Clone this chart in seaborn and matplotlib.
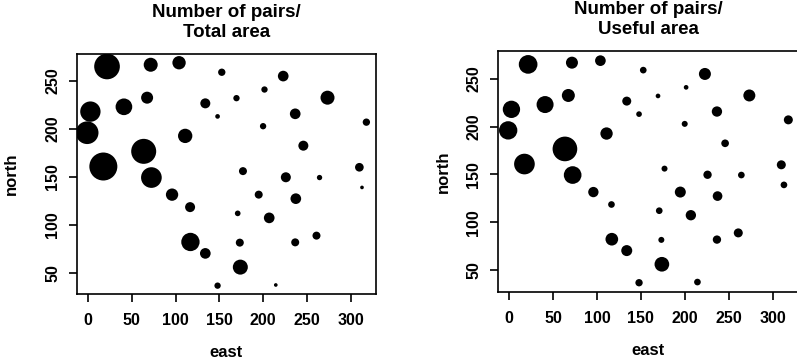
import numpy as np
import pandas as pd
import matplotlib
matplotlib.use("Agg")
import matplotlib.pyplot as plt
import seaborn as sns

# --- DATA ---
east = [21.7, 71.6, 104, 152.8, 223, 201.6, 169.6, 273.6, 134, 67.5,
        41, 2.7, -1, 148, 236.7, 200, 111, 246, 63.6, 17.5,
        310, 177, 72.4, 226, 264.5, 313, 96, 195, 237.4, 116.6,
        171, 207, 117, 173.4, 236.7, 261, 134, 174, 148, 214.5, 318]
north = [265, 266.8, 268.9, 259, 255, 241, 232, 232.5, 226.6, 232.5,
         223, 218, 196, 213, 215.7, 202.8, 192.7, 182.5, 176.6, 160.8,
         160, 156, 149.3, 149.6, 149.3, 139, 131.5, 131.5, 127.3, 118.5,
         112, 107.3, 82.2, 81.5, 81.8, 88.8, 70.3, 56, 36.7, 37.4, 207]
# pairs / total area (circle size)
pairs_total = [0.77, 0.42, 0.40, 0.22, 0.32, 0.19, 0.19, 0.42, 0.30, 0.36,
               0.50, 0.61, 0.68, 0.14, 0.32, 0.19, 0.43, 0.30, 0.75, 0.84,
               0.26, 0.24, 0.62, 0.30, 0.16, 0.11, 0.37, 0.24, 0.32, 0.30,
               0.17, 0.32, 0.55, 0.24, 0.24, 0.24, 0.32, 0.45, 0.19, 0.11, 0.22]
# pairs / useful area (circle size)
pairs_useful = [0.56, 0.36, 0.32, 0.20, 0.36, 0.14, 0.14, 0.36, 0.27, 0.39,
                0.51, 0.52, 0.55, 0.17, 0.31, 0.18, 0.37, 0.23, 0.74, 0.62,
                0.27, 0.18, 0.53, 0.25, 0.20, 0.20, 0.31, 0.33, 0.29, 0.20,
                0.20, 0.31, 0.38, 0.18, 0.25, 0.27, 0.33, 0.44, 0.22, 0.20, 0.27]

titles = ["Number of pairs/\nTotal area", "Number of pairs/\nUseful area"]
xticks = [0, 50, 100, 150, 200, 250, 300]
yticks = [50, 100, 150, 200, 250]

sns.set_style("ticks")
plt.rcParams['font.family'] = ['Liberation Sans', 'DejaVu Sans']
plt.rcParams['font.weight'] = 'bold'
plt.rcParams['text.color'] = 'black'
plt.rcParams['axes.labelcolor'] = 'black'

fig = plt.figure(figsize=(7.97, 3.63), dpi=100)
rects = [[77/797, 69/363, 299/797, 240/363],
         [498/797, 71/363, 300/797, 241/363]]
ylims = [(28, 278), (27, 279)]
ylabel_pads = [19, 11]

for rect, vals, title, ylim, ypad in zip(rects, [pairs_total, pairs_useful], titles, ylims, ylabel_pads):
    ax = fig.add_axes(rect)
    df = pd.DataFrame({"east": east, "north": north, "pairs": vals})
    # circle diameter proportional to value (like R symbols)
    size_map = {v: (24 * v) ** 2 for v in vals}
    sns.scatterplot(data=df, x="east", y="north", size="pairs", sizes=size_map,
                    color="black", linewidth=0, legend=False, ax=ax)
    ax.set_xlim(-12.6, 329)
    ax.set_ylim(*ylim)
    ax.set_xticks(xticks)
    ax.set_yticks(yticks)
    ax.tick_params(axis="both", direction="out", length=6, width=1.2,
                   labelsize=11.5, colors="black")
    ax.tick_params(axis="x", pad=8)
    ax.tick_params(axis="y", pad=6)
    for lab in ax.get_yticklabels():
        lab.set_rotation(90)
        lab.set_va("center")
    for sp in ax.spines.values():
        sp.set_visible(True)
        sp.set_color("black")
        sp.set_linewidth(1.2)
    ax.set_xlabel("east", fontsize=12, fontweight="bold", labelpad=12)
    ax.set_ylabel("north", fontsize=12, fontweight="bold", labelpad=ypad)
    ax.set_title(title, fontsize=13.5, fontweight="bold", pad=12, linespacing=1.25)

fig.savefig("out.png", dpi=100)
